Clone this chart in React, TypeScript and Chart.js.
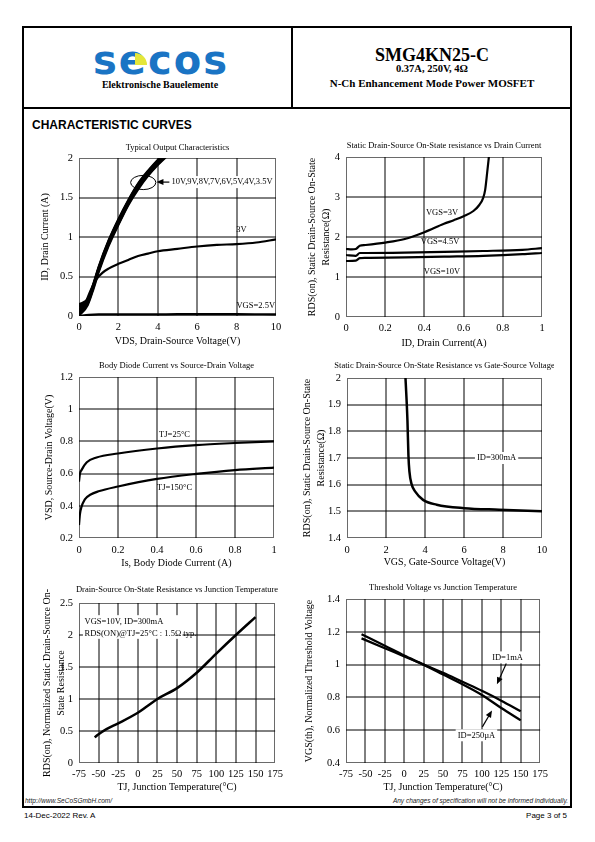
import React, { useEffect, useRef } from "react";
import { Chart, registerables } from "chart.js";

Chart.register(...registerables);

const SERIF = "'Liberation Serif', 'Times New Roman', serif";
const SANS = "'Liberation Sans', Arial, sans-serif";

// ---------- Chart 1: Typical Output Characteristics ----------
const outXTicks = [0, 2, 4, 6, 8, 10];
const outYTicks = [0, 0.5, 1, 1.5, 2];
const id10V = [[0, 0.15], [0.45, 0.22], [0.75, 0.43], [1, 0.63], [1.5, 0.96], [2, 1.23], [2.5, 1.47], [3, 1.68], [3.5, 1.84], [4, 1.98], [4.5, 2.1]];
const id9V = [[0, 0.13], [0.45, 0.21], [0.75, 0.42], [1, 0.62], [1.5, 0.95], [2, 1.22], [2.5, 1.46], [3, 1.67], [3.5, 1.83], [4, 1.97], [4.5, 2.09]];
const id8V = [[0, 0.11], [0.45, 0.2], [0.75, 0.41], [1, 0.61], [1.5, 0.94], [2, 1.21], [2.5, 1.45], [3, 1.66], [3.5, 1.82], [4, 1.96], [4.5, 2.08]];
const id7V = [[0, 0.09], [0.45, 0.19], [0.75, 0.4], [1, 0.6], [1.5, 0.93], [2, 1.2], [2.5, 1.44], [3, 1.65], [3.5, 1.81], [4, 1.95], [4.5, 2.07]];
const id6V = [[0, 0.07], [0.45, 0.18], [0.75, 0.39], [1, 0.59], [1.5, 0.92], [2, 1.19], [2.5, 1.43], [3, 1.64], [3.5, 1.8], [4, 1.94], [4.5, 2.06]];
const id5V = [[0, 0.05], [0.45, 0.17], [0.75, 0.38], [1, 0.58], [1.5, 0.91], [2, 1.18], [2.5, 1.42], [3, 1.63], [3.5, 1.79], [4, 1.93], [4.5, 2.05]];
const id4V = [[0, 0.03], [0.45, 0.16], [0.75, 0.37], [1, 0.57], [1.5, 0.9], [2, 1.16], [2.5, 1.41], [3, 1.62], [3.5, 1.78], [4, 1.92], [4.5, 2.04]];
const id3_5V = [[0, 0], [0.45, 0.14], [0.75, 0.35], [1, 0.55], [1.5, 0.88], [2, 1.15], [2.5, 1.4], [3, 1.6], [3.5, 1.77], [4, 1.91], [4.5, 2.03]];
const id3V = [[0, 0], [0.3, 0.15], [0.6, 0.33], [0.9, 0.47], [1.2, 0.55], [1.5, 0.6], [2, 0.66], [2.5, 0.71], [3, 0.76], [3.5, 0.79], [4, 0.82], [5, 0.85], [6, 0.88], [7, 0.9], [8, 0.91], [9, 0.93], [10, 0.97]];
const id2_5V = [[0, 0], [0.5, 0.015], [1, 0.02], [2, 0.02], [4, 0.02], [6, 0.025], [8, 0.025], [10, 0.02]];

// ---------- Chart 2: RDS(on) vs Drain Current ----------
const rdsIdXTicks = [0, 0.2, 0.4, 0.6, 0.8, 1];
const rdsIdYTicks = [0, 1, 2, 3, 4];
const rdsVgs3V = [[0, 1.7], [0.03, 1.69], [0.05, 1.7], [0.07, 1.78], [0.1, 1.8], [0.2, 1.86], [0.3, 1.95], [0.4, 2.12], [0.5, 2.33], [0.55, 2.42], [0.6, 2.52], [0.65, 2.65], [0.68, 2.8], [0.7, 2.98], [0.71, 3.18], [0.72, 3.6], [0.73, 4.05]];
const rdsVgs4_5V = [[0, 1.55], [0.05, 1.53], [0.07, 1.6], [0.1, 1.6], [0.3, 1.61], [0.5, 1.63], [0.7, 1.65], [0.9, 1.68], [1, 1.72]];
const rdsVgs10V = [[0, 1.4], [0.05, 1.41], [0.07, 1.47], [0.1, 1.48], [0.3, 1.49], [0.5, 1.51], [0.7, 1.53], [0.9, 1.57], [1, 1.6]];

// ---------- Chart 3: Body Diode ----------
const diodeXTicks = [0, 0.2, 0.4, 0.6, 0.8, 1];
const diodeYTicks = [0.2, 0.4, 0.6, 0.8, 1, 1.2];
const vsdTj25 = [[0, 0.55], [0.005, 0.6], [0.012, 0.62], [0.04, 0.67], [0.09, 0.7], [0.2, 0.725], [0.4, 0.756], [0.6, 0.777], [0.8, 0.79], [1, 0.8]];
const vsdTj150 = [[0, 0.28], [0.005, 0.35], [0.012, 0.39], [0.03, 0.44], [0.06, 0.47], [0.1, 0.49], [0.2, 0.52], [0.4, 0.567], [0.6, 0.598], [0.8, 0.622], [1, 0.637]];

// ---------- Chart 4: RDS(on) vs VGS ----------
const rdsVgsXTicks = [0, 2, 4, 6, 8, 10];
const rdsVgsYTicks = [1.4, 1.5, 1.6, 1.7, 1.8, 1.9, 2];
const rdsVsVgs = [[3, 2.0], [3.1, 1.84], [3.15, 1.71], [3.2, 1.65], [3.32, 1.6], [3.5, 1.574], [3.9, 1.543], [4.6, 1.525], [6, 1.512], [7.8, 1.506], [10, 1.5]];

// ---------- Chart 5: Normalized RDS(on) vs TJ ----------
const tjTicks = [-75, -50, -25, 0, 25, 50, 75, 100, 125, 150, 175];
const rdsTjYTicks = [0, 0.5, 1, 1.5, 2, 2.5];
const rdsVsTj = [[-55, 0.4], [-50, 0.45], [-40, 0.53], [-25, 0.62], [0, 0.785], [10, 0.87], [25, 1.0], [50, 1.17], [75, 1.41], [100, 1.71], [125, 2.0], [150, 2.28]];

// ---------- Chart 6: VGS(th) vs TJ ----------
const vthYTicks = [0.4, 0.6, 0.8, 1, 1.2, 1.4];
const vth250uA = [[-55, 1.185], [-25, 1.115], [0, 1.055], [25, 1.0], [50, 0.94], [75, 0.88], [100, 0.815], [125, 0.735], [150, 0.66]];
const vth1mA = [[-55, 1.16], [-25, 1.1], [0, 1.05], [25, 1.0], [50, 0.95], [75, 0.895], [100, 0.84], [125, 0.78], [150, 0.715]];

type Note =
  | { kind: "text"; x: number; y: number; text: string; align?: CanvasTextAlign; bg?: boolean }
  | { kind: "arrow"; x1: number; y1: number; x2: number; y2: number }
  | { kind: "ellipse"; cx: number; cy: number; rx: number; ry: number }
  | { kind: "box"; x1: number; y1: number; x2: number; y2: number };

type Panel = {
  L: number; T: number; R: number; B: number;
  yW: number; xH: number; titleY: number; xPad: number;
  title: string;
  xTicks: number[]; yTicks: number[];
  xTitle: string; yTitle: string | string[];
  series: { points: number[][]; width: number }[];
  notes: Note[];
};

const PAD_R = 12;
const TICK_FONT = { family: SERIF, size: 10.5 };
const AXIS_FONT = { family: SERIF, size: 10, lineHeight: 1.35 };
const NOTE_FONT = `8.5px ${SERIF}`;
const TITLE_FONT = `8.5px ${SERIF}`;
const GRID_COLOR = "#000000";
const FRAME_COLOR = "#6a6a6a";

const panels: Panel[] = [
  {
    L: 79, T: 158, R: 276, B: 316, yW: 40, xH: 31, titleY: 148, xPad: 5,
    title: "Typical Output Characteristics",
    xTicks: outXTicks, yTicks: outYTicks,
    xTitle: "VDS, Drain-Source Voltage(V)", yTitle: "ID, Drain Current (A)",
    series: [
      { points: id10V, width: 2 }, { points: id9V, width: 2 }, { points: id8V, width: 2 }, { points: id7V, width: 2 },
      { points: id6V, width: 2 }, { points: id5V, width: 2 }, { points: id4V, width: 2 }, { points: id3_5V, width: 2 },
      { points: id3V, width: 2.2 }, { points: id2_5V, width: 2.2 },
    ],
    notes: [
      { kind: "ellipse", cx: 3.26, cy: 1.69, rx: 0.64, ry: 0.09 },
      { kind: "arrow", x1: 4.6, y1: 1.695, x2: 3.93, y2: 1.695 },
      { kind: "text", x: 4.7, y: 1.695, text: "10V,9V,8V,7V,6V,5V,4V,3.5V", align: "left", bg: true },
      { kind: "text", x: 8.25, y: 1.09, text: "3V" },
      { kind: "text", x: 9.95, y: 0.13, text: "VGS=2.5V", align: "right" },
    ],
  },
  {
    L: 346, T: 157, R: 542, B: 317, yW: 40, xH: 32, titleY: 146, xPad: 5,
    title: "Static Drain-Source On-State resistance vs Drain Current",
    xTicks: rdsIdXTicks, yTicks: rdsIdYTicks,
    xTitle: "ID, Drain Current(A)", yTitle: ["RDS(on), Static Drain-Source On-State", "Resistance(Ω)"],
    series: [{ points: rdsVgs3V, width: 2.2 }, { points: rdsVgs4_5V, width: 2.2 }, { points: rdsVgs10V, width: 2.2 }],
    notes: [
      { kind: "text", x: 0.49, y: 2.6, text: "VGS=3V" },
      { kind: "text", x: 0.48, y: 1.87, text: "VGS=4.5V" },
      { kind: "text", x: 0.49, y: 1.14, text: "VGS=10V" },
    ],
  },
  {
    L: 79, T: 377, R: 274, B: 538, yW: 36, xH: 31, titleY: 366, xPad: 6,
    title: "Body Diode Current vs Source-Drain Voltage",
    xTicks: diodeXTicks, yTicks: diodeYTicks,
    xTitle: "Is, Body Diode Current (A)", yTitle: "VSD, Source-Drain Voltage(V)",
    series: [{ points: vsdTj25, width: 2.2 }, { points: vsdTj150, width: 2.2 }],
    notes: [
      { kind: "text", x: 0.49, y: 0.84, text: "TJ=25°C" },
      { kind: "text", x: 0.49, y: 0.51, text: "TJ=150°C" },
    ],
  },
  {
    L: 347, T: 378, R: 542, B: 538, yW: 46, xH: 30, titleY: 366, xPad: 6,
    title: "Static Drain-Source On-State Resistance vs Gate-Source Voltage",
    xTicks: rdsVgsXTicks, yTicks: rdsVgsYTicks,
    xTitle: "VGS, Gate-Source Voltage(V)", yTitle: ["RDS(on), Static Drain-Source On-State", "Resistance(Ω)"],
    series: [{ points: rdsVsVgs, width: 2.5 }],
    notes: [{ kind: "text", x: 7.67, y: 1.7, text: "ID=300mA", bg: true }],
  },
  {
    L: 79, T: 603, R: 276, B: 763, yW: 38, xH: 30, titleY: 590, xPad: 5,
    title: "Drain-Source On-State Resistance vs Junction Temperature",
    xTicks: tjTicks, yTicks: rdsTjYTicks,
    xTitle: "TJ, Junction Temperature(°C)", yTitle: ["RDS(on), Normalized Static Drain-Source On-", "State Resistance"],
    series: [{ points: rdsVsTj, width: 2.5 }],
    notes: [
      { kind: "box", x1: -70, y1: 2.31, x2: 57, y2: 1.94 },
      { kind: "text", x: -68, y: 2.2, text: "VGS=10V, ID=300mA", align: "left" },
      { kind: "text", x: -68, y: 2.02, text: "RDS(ON)@TJ=25°C : 1.5Ω typ.", align: "left" },
    ],
  },
  {
    L: 346, T: 599, R: 541, B: 763, yW: 43, xH: 30, titleY: 588, xPad: 5,
    title: "Threshold Voltage vs Junction Temperature",
    xTicks: tjTicks, yTicks: vthYTicks,
    xTitle: "TJ, Junction Temperature(°C)", yTitle: "VGS(th), Normalized Threshold Voltage",
    series: [{ points: vth250uA, width: 2.3 }, { points: vth1mA, width: 2.3 }],
    notes: [
      { kind: "text", x: 133, y: 1.044, text: "ID=1mA", bg: true },
      { kind: "arrow", x1: 131.4, y1: 1.007, x2: 119.4, y2: 0.88 },
      { kind: "text", x: 93, y: 0.569, text: "ID=250µA", bg: true },
      { kind: "arrow", x1: 100.6, y1: 0.62, x2: 113, y2: 0.72 },
    ],
  },
];

function ChartPanel({ p }: { p: Panel }) {
  const ref = useRef<HTMLCanvasElement | null>(null);
  const padTop = p.T - p.titleY + 10;
  const w = p.yW + (p.R - p.L) + PAD_R;
  const h = padTop + (p.B - p.T) + p.xH;

  useEffect(() => {
    const canvas = ref.current;
    if (!canvas) return;
    const xMin = p.xTicks[0], xMax = p.xTicks[p.xTicks.length - 1];
    const yMin = p.yTicks[0], yMax = p.yTicks[p.yTicks.length - 1];

    const drawGrid = (chart: any) => {
      const { ctx, chartArea: a, scales } = chart;
      ctx.save();
      ctx.lineWidth = 1;
      ctx.strokeStyle = FRAME_COLOR;
      ctx.strokeRect(Math.round(a.left) + 0.5, Math.round(a.top) + 0.5, Math.round(a.right - a.left) - 1, Math.round(a.bottom - a.top) - 1);
      ctx.strokeStyle = GRID_COLOR;
      ctx.beginPath();
      for (let i = 1; i < p.xTicks.length - 1; i++) {
        const x = Math.round(scales.x.getPixelForValue(p.xTicks[i]));
        ctx.moveTo(x, a.top);
        ctx.lineTo(x, a.bottom);
      }
      for (let i = 1; i < p.yTicks.length - 1; i++) {
        const y = Math.round(scales.y.getPixelForValue(p.yTicks[i]));
        ctx.moveTo(a.left, y);
        ctx.lineTo(a.right, y);
      }
      ctx.stroke();
      ctx.restore();
    };

    const drawNotes = (chart: any) => {
      const { ctx, chartArea, scales } = chart;
      const X = (v: number) => scales.x.getPixelForValue(v);
      const Y = (v: number) => scales.y.getPixelForValue(v);
      ctx.save();
      ctx.fillStyle = "#000";
      ctx.strokeStyle = "#000";
      for (const n of p.notes) {
        if (n.kind === "box") {
          ctx.fillStyle = "#fff";
          ctx.fillRect(X(n.x1), Y(n.y1), X(n.x2) - X(n.x1), Y(n.y2) - Y(n.y1));
          ctx.fillStyle = "#000";
        } else if (n.kind === "text") {
          ctx.font = NOTE_FONT;
          ctx.textAlign = n.align || "center";
          ctx.textBaseline = "middle";
          const px = X(n.x), py = Y(n.y);
          if (n.bg) {
            const tw = ctx.measureText(n.text).width;
            const left = n.align === "left" ? px : n.align === "right" ? px - tw : px - tw / 2;
            ctx.fillStyle = "#fff";
            ctx.fillRect(left - 2, py - 6, tw + 4, 12);
            ctx.fillStyle = "#000";
          }
          ctx.fillText(n.text, px, py);
        } else if (n.kind === "arrow") {
          const x1 = X(n.x1), y1 = Y(n.y1), x2 = X(n.x2), y2 = Y(n.y2);
          const a = Math.atan2(y2 - y1, x2 - x1);
          ctx.lineWidth = 1.2;
          ctx.beginPath();
          ctx.moveTo(x1, y1);
          ctx.lineTo(x2 - 4 * Math.cos(a), y2 - 4 * Math.sin(a));
          ctx.stroke();
          ctx.beginPath();
          ctx.moveTo(x2, y2);
          ctx.lineTo(x2 - 7 * Math.cos(a) + 3 * Math.sin(a), y2 - 7 * Math.sin(a) - 3 * Math.cos(a));
          ctx.lineTo(x2 - 7 * Math.cos(a) - 3 * Math.sin(a), y2 - 7 * Math.sin(a) + 3 * Math.cos(a));
          ctx.closePath();
          ctx.fill();
        } else if (n.kind === "ellipse") {
          const cx = X(n.cx), cy = Y(n.cy);
          const rx = Math.abs(X(n.cx + n.rx) - cx), ry = Math.abs(Y(n.cy + n.ry) - cy);
          ctx.lineWidth = 1;
          ctx.beginPath();
          ctx.ellipse(cx, cy, rx, ry, 0, 0, Math.PI * 2);
          ctx.stroke();
        }
      }
      ctx.font = TITLE_FONT;
      ctx.textAlign = "center";
      ctx.textBaseline = "middle";
      ctx.fillStyle = "#000";
      ctx.fillText(p.title, (chartArea.left + chartArea.right) / 2, chartArea.top - (p.T - p.titleY));
      ctx.restore();
    };

    const decor = {
      id: "decor",
      beforeDatasetsDraw(chart: any) {
        drawGrid(chart);
      },
      afterDatasetsDraw(chart: any) {
        drawNotes(chart);
      },
    };

    const chart = new Chart(canvas, {
      type: "line",
      data: {
        datasets: p.series.map((s) => ({
          data: s.points.map(([x, y]) => ({ x, y })),
          borderColor: "#000",
          borderWidth: s.width,
          pointRadius: 0,
          fill: false,
          cubicInterpolationMode: "monotone" as const,
        })),
      },
      options: {
        responsive: false,
        animation: false,
        devicePixelRatio: 1,
        layout: { padding: { top: padTop, right: PAD_R, left: 0, bottom: 0 } },
        plugins: { legend: { display: false }, tooltip: { enabled: false }, title: { display: false } },
        scales: {
          x: {
            type: "linear",
            min: xMin,
            max: xMax,
            afterBuildTicks: (s: any) => { s.ticks = p.xTicks.map((v) => ({ value: v })); },
            afterFit: (s: any) => { s.height = p.xH; },
            ticks: { font: TICK_FONT, color: "#000", padding: p.xPad, maxRotation: 0, autoSkip: false, callback: (v: any) => String(v) },
            grid: { display: false, drawTicks: false },
            border: { display: false },
            title: { display: true, text: p.xTitle, font: { family: SERIF, size: 10, lineHeight: 1.2 }, color: "#000", padding: 0 },
          },
          y: {
            type: "linear",
            min: yMin,
            max: yMax,
            afterBuildTicks: (s: any) => { s.ticks = p.yTicks.map((v) => ({ value: v })); },
            afterFit: (s: any) => { s.width = p.yW; },
            ticks: { font: TICK_FONT, color: "#000", padding: 6, autoSkip: false, callback: (v: any) => String(v) },
            grid: { display: false, drawTicks: false },
            border: { display: false },
            title: { display: true, text: p.yTitle as any, font: AXIS_FONT, color: "#000", padding: 0 },
          },
        },
      } as any,
      plugins: [decor],
    });
    return () => chart.destroy();
  }, []);

  return (
    <canvas
      ref={ref}
      width={w}
      height={h}
      style={{ position: "absolute", left: p.L - p.yW, top: p.T - padTop }}
    />
  );
}

const line = (left: number, top: number, width: number, height: number) => (
  <div style={{ position: "absolute", left, top, width, height, background: "#000" }} />
);

export default function App() {
  return (
    <div style={{ position: "absolute", left: 0, top: 0, width: 595, height: 842, background: "#fff", overflow: "hidden" }}>
      {line(22, 26, 550, 2)}
      {line(22, 107, 550, 2)}
      {line(22, 26, 2, 782)}
      {line(570, 26, 2, 782)}
      {line(291, 26, 2, 82)}
      {line(22, 806, 550, 2)}

      <div style={{ position: "absolute", left: 93, top: 40, fontFamily: "'DejaVu Sans', sans-serif", fontWeight: 900, fontSize: 40, lineHeight: "40px", color: "#1a74c4", letterSpacing: 2 }}>
        secos
      </div>
      <div style={{ position: "absolute", left: 135, top: 53, width: 12, height: 12, background: "#e4e63a", borderTopRightRadius: "100%" }} />
      <div style={{ position: "absolute", left: 60, top: 79, width: 200, textAlign: "center", fontFamily: SERIF, fontWeight: 700, fontSize: 10, lineHeight: "12px", color: "#000" }}>
        Elektronische Bauelemente
      </div>

      <div style={{ position: "absolute", left: 293, top: 45, width: 278, textAlign: "center", fontFamily: SERIF, fontWeight: 700, fontSize: 18, lineHeight: "21px", color: "#000" }}>
        SMG4KN25-C
      </div>
      <div style={{ position: "absolute", left: 293, top: 63, width: 278, textAlign: "center", fontFamily: SERIF, fontWeight: 700, fontSize: 10.5, lineHeight: "12px", color: "#000" }}>
        0.37A, 250V, 4Ω
      </div>
      <div style={{ position: "absolute", left: 293, top: 77, width: 278, textAlign: "center", fontFamily: SERIF, fontWeight: 700, fontSize: 11, lineHeight: "12px", color: "#000" }}>
        N-Ch Enhancement Mode Power MOSFET
      </div>

      <div style={{ position: "absolute", left: 32, top: 118, fontFamily: SANS, fontWeight: 700, fontSize: 12, lineHeight: "14px", color: "#000" }}>
        CHARACTERISTIC CURVES
      </div>

      {panels.map((p, i) => (
        <ChartPanel key={i} p={p} />
      ))}

      <div style={{ position: "absolute", left: 25, top: 797, fontFamily: SANS, fontStyle: "italic", fontSize: 6.5, lineHeight: "8px", color: "#222" }}>
        http://www.SeCoSGmbH.com/
      </div>
      <div style={{ position: "absolute", right: 595 - 568, top: 797, fontFamily: SANS, fontStyle: "italic", fontSize: 6.5, lineHeight: "8px", color: "#222", whiteSpace: "nowrap" }}>
        Any changes of specification will not be informed individually.
      </div>
      <div style={{ position: "absolute", left: 24, top: 811, fontFamily: SANS, fontSize: 8, lineHeight: "10px", color: "#000" }}>
        14-Dec-2022 Rev. A
      </div>
      <div style={{ position: "absolute", right: 595 - 567, top: 811, fontFamily: SANS, fontSize: 8, lineHeight: "10px", color: "#000", whiteSpace: "nowrap" }}>
        Page 3 of 5
      </div>
    </div>
  );
}
